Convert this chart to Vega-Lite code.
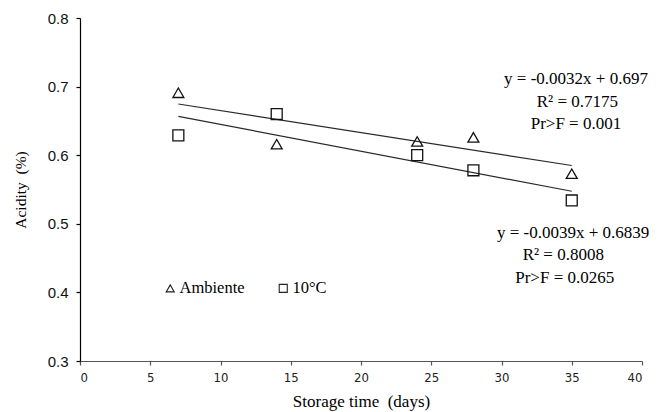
{
  "$schema": "https://vega.github.io/schema/vega-lite/v6.json",
  "width": 562,
  "height": 343,
  "autosize": {"type": "none"},
  "padding": {"left": 80, "top": 18, "right": 23, "bottom": 51},
  "background": "white",
  "config": {
    "view": {"stroke": null},
    "axis": {"grid": false, "domainColor": "#000000", "tickColor": "#000000", "domainWidth": 1.2, "tickWidth": 1.2, "tickSize": 4}
  },
  "datasets": {
    "points": [
      {"day": 7, "acidity": 0.691, "Treatment": "Ambiente"},
      {"day": 14, "acidity": 0.616, "Treatment": "Ambiente"},
      {"day": 24, "acidity": 0.620, "Treatment": "Ambiente"},
      {"day": 28, "acidity": 0.626, "Treatment": "Ambiente"},
      {"day": 35, "acidity": 0.573, "Treatment": "Ambiente"},
      {"day": 7, "acidity": 0.629, "Treatment": "10°C"},
      {"day": 14, "acidity": 0.660, "Treatment": "10°C"},
      {"day": 24, "acidity": 0.600, "Treatment": "10°C"},
      {"day": 28, "acidity": 0.578, "Treatment": "10°C"},
      {"day": 35, "acidity": 0.534, "Treatment": "10°C"}
    ],
    "fits": [
      {"day": 7, "acidity": 0.6746, "Treatment": "Ambiente"},
      {"day": 35, "acidity": 0.585, "Treatment": "Ambiente"},
      {"day": 7, "acidity": 0.6566, "Treatment": "10°C"},
      {"day": 35, "acidity": 0.5474, "Treatment": "10°C"}
    ],
    "notes": [
      {"day": 35.3, "acidity": 0.711, "label": "y = -0.0032x + 0.697"},
      {"day": 35.4, "acidity": 0.678, "label": "R² = 0.7175"},
      {"day": 35.3, "acidity": 0.645, "label": "Pr>F = 0.001"},
      {"day": 35.1, "acidity": 0.487, "label": "y = -0.0039x + 0.6839"},
      {"day": 34.4, "acidity": 0.454, "label": "R² = 0.8008"},
      {"day": 34.5, "acidity": 0.421, "label": "Pr>F = 0.0265"}
    ]
  },
  "layer": [
    {
      "data": {"name": "fits"},
      "mark": {"type": "line", "color": "#2a2a2a", "strokeWidth": 1.2},
      "encoding": {
        "x": {"field": "day", "type": "quantitative"},
        "y": {"field": "acidity", "type": "quantitative"},
        "detail": {"field": "Treatment"}
      }
    },
    {
      "data": {"name": "points"},
      "mark": {"type": "point", "filled": false, "color": "#111111", "strokeWidth": 1.3, "size": 120, "opacity": 1},
      "encoding": {
        "x": {
          "field": "day", "type": "quantitative",
          "scale": {"domain": [0, 40], "nice": false, "zero": false},
          "axis": {"values": [0, 5, 10, 15, 20, 25, 30, 35, 40], "title": "Storage time\u00a0 (days)", "titleFont": "Liberation Serif", "titleFontSize": 17, "titleFontWeight": "normal", "titleColor": "#000000", "titlePadding": 9, "labelFont": "Liberation Sans Narrow, DejaVu Sans Condensed, Liberation Sans", "labelFontSize": 13, "labelColor": "#222222", "labelPadding": 6, "domainColor": "#555555", "tickColor": "#555555"}
        },
        "y": {
          "field": "acidity", "type": "quantitative",
          "scale": {"domain": [0.3, 0.8], "nice": false, "zero": false},
          "axis": {"values": [0.3, 0.4, 0.5, 0.6, 0.7, 0.8], "format": ".1f", "title": "Acidity\u00a0 (%)", "titleFont": "Liberation Serif", "titleFontSize": 15.5, "titleFontWeight": "normal", "titleColor": "#000000", "titlePadding": 19, "labelFont": "Liberation Sans", "labelFontSize": 15, "labelColor": "#111111", "labelPadding": 8}
        },
        "shape": {
          "field": "Treatment", "type": "nominal",
          "scale": {"domain": ["Ambiente", "10°C"], "range": ["triangle-up", "square"]},
          "legend": {"title": null, "orient": "none", "direction": "horizontal", "legendX": 82, "legendY": 262, "labelFont": "Liberation Serif", "labelFontSize": 16.5, "labelColor": "#000000", "symbolSize": 65, "symbolStrokeWidth": 1.1, "symbolStrokeColor": "#222222", "labelOffset": 1, "columnPadding": 30}
        }
      }
    },
    {
      "data": {"name": "notes"},
      "mark": {"type": "text", "font": "Liberation Serif", "fontSize": 17, "color": "#000000", "align": "center", "baseline": "middle"},
      "encoding": {
        "x": {"field": "day", "type": "quantitative"},
        "y": {"field": "acidity", "type": "quantitative"},
        "text": {"field": "label"}
      }
    }
  ]
}
